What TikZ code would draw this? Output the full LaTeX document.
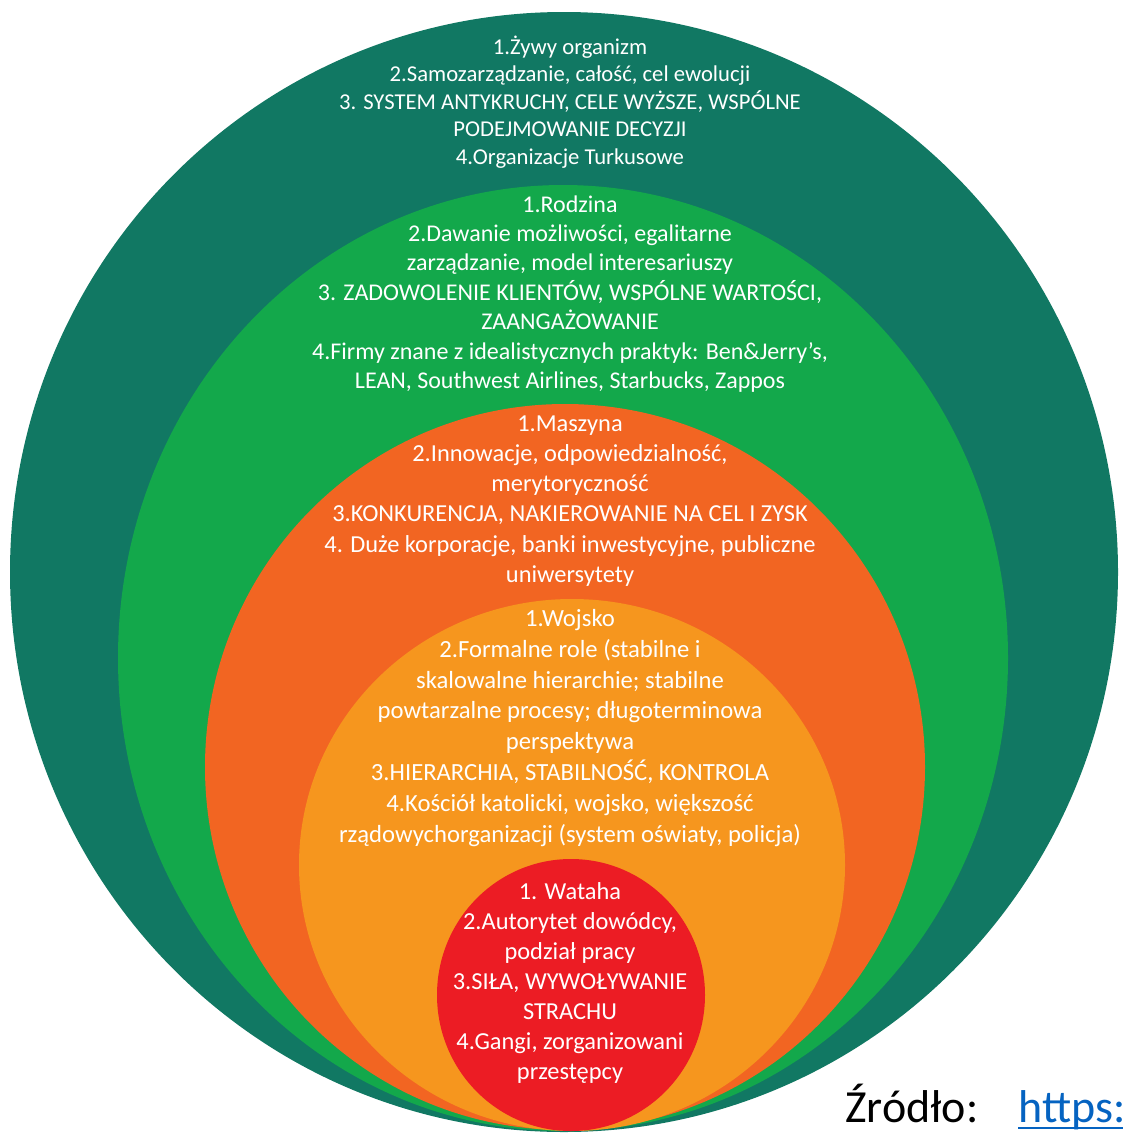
\documentclass[tikz,border=0pt]{standalone}
\usepackage{fontspec}
\setmainfont{Carlito}
\definecolor{teal}{HTML}{117863}
\definecolor{leaf}{HTML}{13A84B}
\definecolor{rust}{HTML}{F26522}
\definecolor{amber}{HTML}{F6961E}
\definecolor{crimson}{HTML}{EC1C24}
\definecolor{linkblue}{HTML}{0563C1}
\tikzset{
  layer/.style={draw=none},
  blurb/.style={text=white, align=center, inner sep=0pt},
}
\begin{document}
\begin{tikzpicture}[x=0.75pt, y=-0.75pt]
  % white page
  \fill[white] (0,0) rectangle (1122,1135);
  \useasboundingbox (0,0) rectangle (1122,1135);

  % nested discs, all resting on the same base
  \fill[layer, teal]    (564,572) ellipse [x radius=554, y radius=560];
  \fill[layer, leaf]    (563,658) ellipse [x radius=445, y radius=473];
  \fill[layer, rust]    (565,767) ellipse [x radius=360, y radius=363];
  \fill[layer, amber]   (572,865) ellipse [x radius=273, y radius=266];
  \fill[layer, crimson] (571,995) ellipse [x radius=134, y radius=136];

  % texts of each layer
  \node[blurb, font=\fontsize{17}{20.6}\selectfont] (turkus) at (570,102) {%
    1.Żywy organizm\\
    2.Samozarządzanie, całość, cel ewolucji\\
    3. SYSTEM ANTYKRUCHY, CELE WYŻSZE, WSPÓLNE\\
    PODEJMOWANIE DECYZJI\\
    4.Organizacje Turkusowe};

  \node[blurb, font=\fontsize{18}{22.1}\selectfont] (rodzina) at (570,294) {%
    1.Rodzina\\
    2.Dawanie możliwości, egalitarne\\
    zarządzanie, model interesariuszy\\
    3. ZADOWOLENIE KLIENTÓW, WSPÓLNE WARTOŚCI,\\
    ZAANGAŻOWANIE\\
    4.Firmy znane z idealistycznych praktyk: Ben\&Jerry’s,\\
    LEAN, Southwest Airlines, Starbucks, Zappos};

  \node[blurb, font=\fontsize{18.3}{22.6}\selectfont] (maszyna) at (570,501) {%
    1.Maszyna\\
    2.Innowacje, odpowiedzialność,\\
    merytoryczność\\
    3.KONKURENCJA, NAKIEROWANIE NA CEL I ZYSK\\
    4. Duże korporacje, banki inwestycyjne, publiczne\\
    uniwersytety};

  \node[blurb, font=\fontsize{18.5}{23.2}\selectfont] (wojsko) at (570,728) {%
    1.Wojsko\\
    2.Formalne role (stabilne i\\
    skalowalne hierarchie; stabilne\\
    powtarzalne procesy; długoterminowa\\
    perspektywa\\
    3.HIERARCHIA, STABILNOŚĆ, KONTROLA\\
    4.Kościół katolicki, wojsko, większość\\
    rządowychorganizacji (system oświaty, policja)};

  \node[blurb, font=\fontsize{18.3}{22.4}\selectfont] (wataha) at (570,983) {%
    1. Wataha\\
    2.Autorytet dowódcy,\\
    podział pracy\\
    3.SIŁA, WYWOŁYWANIE\\
    STRACHU\\
    4.Gangi, zorganizowani\\
    przestępcy};

  % source line
  \node[anchor=base west, inner sep=0pt, font=\fontsize{34.5}{40}\selectfont] (zrodlo) at (845,1122) {Źródło:};
  \node[anchor=base west, inner sep=0pt, text=linkblue, font=\fontsize{34.5}{40}\selectfont] (link) at (1018,1122) {https:};
  \draw[linkblue, line width=1.8pt] (link.base west) ++(0,6) -- ++(130,0);
\end{tikzpicture}
\end{document}
